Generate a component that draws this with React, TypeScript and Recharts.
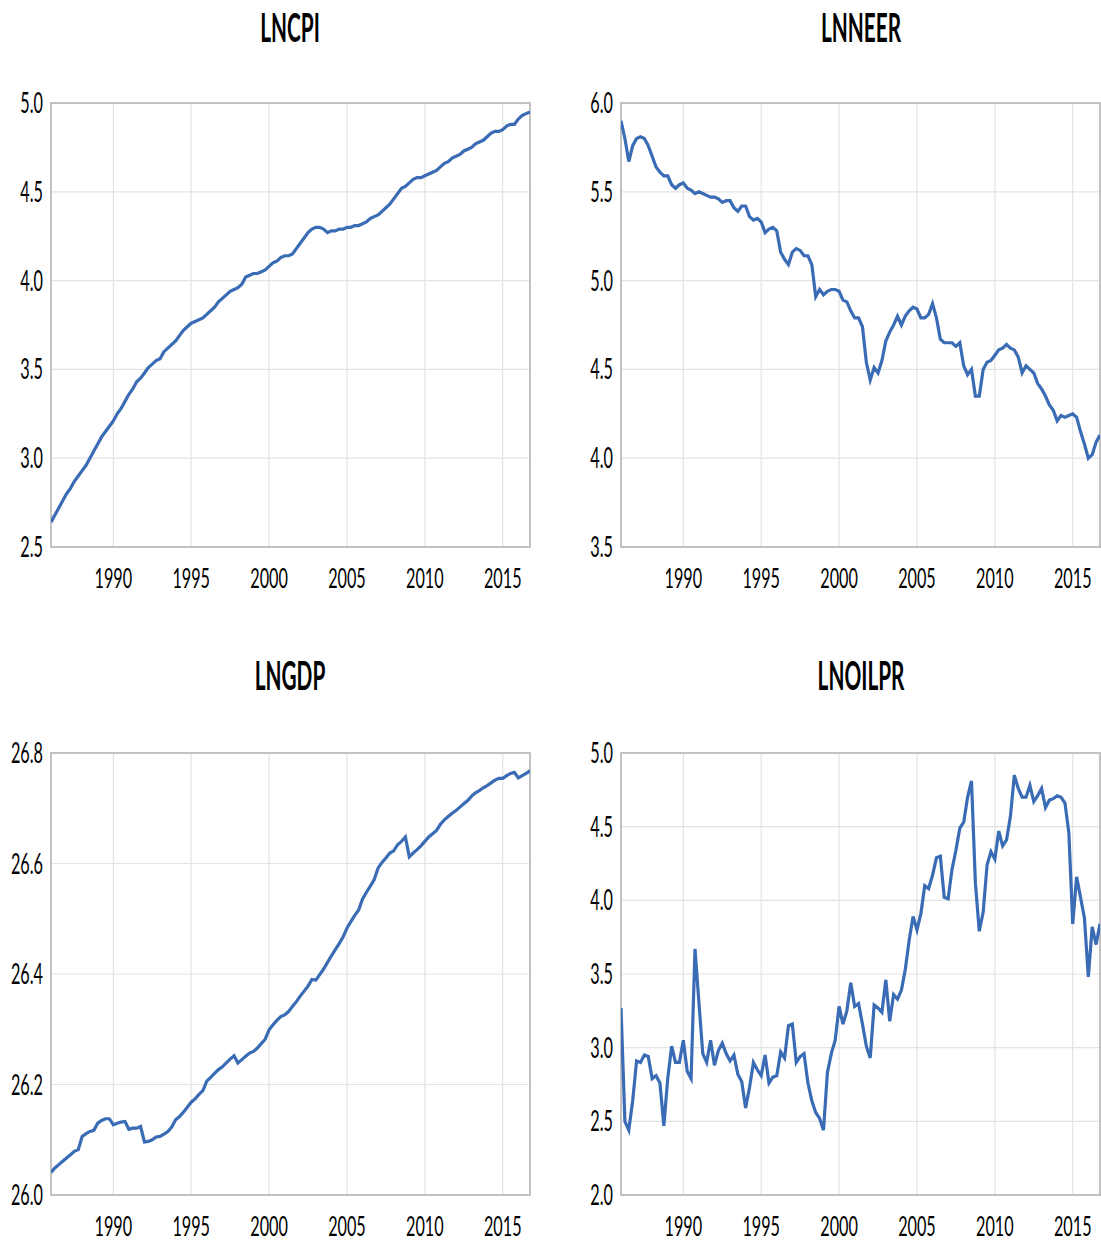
import React from "react";
import { LineChart, Line, XAxis, YAxis, CartesianGrid, ReferenceArea } from "recharts";

// quarterly sample 1986Q1 - 2016Q4
const YEARS = Array.from({ length: 31 }, (_, k) => 1986 + k);
const QUARTERS: string[] = YEARS.flatMap((y) => [`${y}Q1`, `${y}Q2`, `${y}Q3`, `${y}Q4`]);
const YEAR_TICKS = [1990, 1995, 2000, 2005, 2010, 2015];

const LNCPI = [
  2.64, 2.68, 2.72, 2.76, 2.8, 2.83, 2.87, 2.9, 2.93, 2.96, 3.0, 3.04, 3.08, 3.12, 3.15, 3.18,
  3.21, 3.25, 3.28, 3.32, 3.36, 3.39, 3.43, 3.45, 3.48, 3.51, 3.53, 3.55, 3.56, 3.6, 3.62, 3.64,
  3.66, 3.69, 3.72, 3.74, 3.76, 3.77, 3.78, 3.79, 3.81, 3.83, 3.85, 3.88, 3.9, 3.92, 3.94, 3.95,
  3.96, 3.98, 4.02, 4.03, 4.04, 4.04, 4.05, 4.06, 4.08, 4.1, 4.11, 4.13, 4.14, 4.14, 4.15, 4.18,
  4.21, 4.24, 4.27, 4.29, 4.3, 4.3, 4.29, 4.27, 4.28, 4.28, 4.29, 4.29, 4.3, 4.3, 4.31, 4.31,
  4.32, 4.33, 4.35, 4.36, 4.37, 4.39, 4.41, 4.43, 4.46, 4.49, 4.52, 4.53, 4.55, 4.57, 4.58, 4.58,
  4.59, 4.6, 4.61, 4.62, 4.64, 4.66, 4.67, 4.69, 4.7, 4.71, 4.73, 4.74, 4.75, 4.77, 4.78, 4.79,
  4.81, 4.83, 4.84, 4.84, 4.85, 4.87, 4.88, 4.88, 4.91, 4.93, 4.94, 4.95,
];

const LNNEER = [
  5.9, 5.8, 5.67, 5.76, 5.8, 5.81, 5.8, 5.76, 5.7, 5.64, 5.61, 5.59, 5.59, 5.54, 5.52, 5.54,
  5.55, 5.52, 5.51, 5.49, 5.5, 5.49, 5.48, 5.47, 5.47, 5.46, 5.44, 5.45, 5.45, 5.41, 5.39, 5.42,
  5.42, 5.36, 5.34, 5.35, 5.33, 5.27, 5.29, 5.3, 5.28, 5.16, 5.12, 5.09, 5.16, 5.18, 5.17, 5.14,
  5.14, 5.09, 4.91, 4.95, 4.92, 4.94, 4.95, 4.95, 4.94, 4.89, 4.88, 4.83, 4.79, 4.79, 4.74, 4.54,
  4.44, 4.51, 4.48, 4.55, 4.66, 4.71, 4.75, 4.8, 4.75, 4.8, 4.83, 4.85, 4.84, 4.79, 4.79, 4.81,
  4.87, 4.79, 4.67, 4.65, 4.65, 4.65, 4.63, 4.65, 4.52, 4.47, 4.5, 4.35, 4.35, 4.5, 4.54, 4.55,
  4.58, 4.61, 4.62, 4.64, 4.62, 4.61, 4.57, 4.48, 4.52, 4.5, 4.48, 4.42, 4.39, 4.35, 4.3, 4.27,
  4.21, 4.24, 4.23, 4.24, 4.25, 4.23, 4.15, 4.08, 4.0, 4.02, 4.09, 4.13,
];

const LNGDP = [
  26.041, 26.049, 26.055, 26.061, 26.067, 26.073, 26.079, 26.082, 26.106, 26.111, 26.115, 26.117,
  26.13, 26.135, 26.138, 26.138, 26.127, 26.13, 26.132, 26.133, 26.119, 26.121, 26.121, 26.124,
  26.096, 26.097, 26.1, 26.105, 26.106, 26.11, 26.115, 26.123, 26.136, 26.142, 26.15, 26.159,
  26.168, 26.174, 26.182, 26.189, 26.206, 26.213, 26.22, 26.227, 26.232, 26.239, 26.246, 26.252,
  26.239, 26.245, 26.251, 26.257, 26.26, 26.266, 26.274, 26.282, 26.299, 26.308, 26.316, 26.323,
  26.326, 26.332, 26.341, 26.35, 26.36, 26.369, 26.378, 26.39, 26.389, 26.399, 26.409, 26.421,
  26.433, 26.444, 26.455, 26.467, 26.483, 26.495, 26.506, 26.516, 26.536, 26.548, 26.559, 26.571,
  26.592, 26.602, 26.61, 26.619, 26.623, 26.634, 26.64, 26.648, 26.612, 26.619, 26.625, 26.632,
  26.64, 26.648, 26.654, 26.66, 26.671, 26.679, 26.685, 26.691, 26.696, 26.702, 26.708, 26.714,
  26.722, 26.728, 26.732, 26.737, 26.741, 26.746, 26.751, 26.754, 26.754, 26.759, 26.763, 26.765,
  26.755, 26.759, 26.763, 26.768,
];

const LNOILPR = [
  3.27, 2.5, 2.44, 2.64, 2.91, 2.9, 2.95, 2.94, 2.79, 2.81, 2.76, 2.47, 2.79, 3.01, 2.9, 2.9,
  3.05, 2.84, 2.79, 3.67, 3.31, 2.96, 2.9, 3.05, 2.88, 2.98, 3.03, 2.96, 2.91, 2.95, 2.82, 2.77,
  2.59, 2.73, 2.9, 2.85, 2.81, 2.95, 2.76, 2.8, 2.81, 2.97, 2.93, 3.15, 3.16, 2.9, 2.94, 2.96,
  2.76, 2.64, 2.56, 2.52, 2.44, 2.83, 2.96, 3.05, 3.28, 3.16, 3.25, 3.44, 3.28, 3.3, 3.16, 3.01,
  2.93, 3.29, 3.27, 3.24, 3.46, 3.18, 3.36, 3.33, 3.39, 3.53, 3.73, 3.89, 3.8, 3.91, 4.1, 4.08,
  4.17, 4.29, 4.3, 4.02, 4.01, 4.21, 4.34, 4.49, 4.53, 4.7, 4.81, 4.12, 3.79, 3.92, 4.24, 4.33,
  4.28, 4.47, 4.37, 4.41, 4.57, 4.85, 4.76, 4.7, 4.7, 4.78, 4.67, 4.71, 4.76, 4.63, 4.68, 4.69,
  4.71, 4.7, 4.66, 4.46, 3.84, 4.16, 4.02, 3.88, 3.48, 3.82, 3.7, 3.84,
];

const CPI_TICKS = [2.5, 3.0, 3.5, 4.0, 4.5, 5.0];
const NEER_TICKS = [3.5, 4.0, 4.5, 5.0, 5.5, 6.0];
const GDP_TICKS = [26.0, 26.2, 26.4, 26.6, 26.8];
const OIL_TICKS = [2.0, 2.5, 3.0, 3.5, 4.0, 4.5, 5.0];

const toRows = (values: number[]) =>
  QUARTERS.map((q, i) => ({
    t: Number(q.slice(0, 4)) + (Number(q.slice(5)) - 1) / 4,
    v: values[i],
  }));

const FONT = "Lato, 'Open Sans', sans-serif";
const BLUE = "#3a6bb5";

function XTick(props: any) {
  const { x, y, payload } = props;
  return (
    <g transform={`translate(${x},${y + 32.5})`}>
      <text transform="scale(0.59,1)" textAnchor="middle" fontFamily={FONT} fontSize={27.5} fill="#000">
        {payload.value}
      </text>
    </g>
  );
}

function YTick(props: any) {
  const { x, y, payload } = props;
  return (
    <g transform={`translate(${x},${y + 10})`}>
      <text transform="scale(0.58,1)" textAnchor="end" fontFamily={FONT} fontSize={28} fill="#000">
        {Number(payload.value).toFixed(1)}
      </text>
    </g>
  );
}

function Panel({
  values,
  ticks,
  left,
  top,
  width,
  height,
  bottom,
}: {
  values: number[];
  ticks: number[];
  left: number;
  top: number;
  width: number;
  height: number;
  bottom: number;
}) {
  const lo = ticks[0];
  const hi = ticks[ticks.length - 1];
  return (
    <div style={{ position: "absolute", left, top }}>
      <LineChart
        width={width}
        height={height}
        data={toRows(values)}
        margin={{ top: 103, right: width === 540 ? 10 : 1, bottom, left: 0 }}
      >
        <CartesianGrid stroke="#e3e3e3" strokeWidth={1.2} />
        <XAxis
          dataKey="t"
          type="number"
          domain={[1986, 2016.75]}
          ticks={YEAR_TICKS}
          tick={<XTick />}
          tickLine={false}
          axisLine={false}
          height={40}
          allowDataOverflow
        />
        <YAxis
          domain={[lo, hi]}
          ticks={ticks}
          tick={<YTick />}
          tickLine={false}
          axisLine={false}
          width={51}
          allowDataOverflow
        />
        <ReferenceArea x1={1986} x2={2016.75} y1={lo} y2={hi} fill="none" stroke="#c2c2c2" strokeWidth={2} />
        <Line
          type="linear"
          dataKey="v"
          stroke={BLUE}
          strokeWidth={3.2}
          dot={false}
          isAnimationActive={false}
        />
      </LineChart>
    </div>
  );
}

const TITLES = [
  { text: "LNCPI", x: 290, y: 42 },
  { text: "LNNEER", x: 861, y: 42 },
  { text: "LNGDP", x: 290, y: 690 },
  { text: "LNOILPR", x: 861, y: 690 },
];

export default function App() {
  return (
    <div
      style={{
        position: "absolute",
        left: 0,
        top: 0,
        width: 1101,
        height: 1243,
        overflow: "hidden",
        background: "#fff",
      }}
    >
      <Panel values={LNCPI} ticks={CPI_TICKS} left={0} top={0} width={540} height={600} bottom={13} />
      <Panel values={LNNEER} ticks={NEER_TICKS} left={570} top={0} width={531} height={600} bottom={13} />
      <Panel values={LNGDP} ticks={GDP_TICKS} left={0} top={650} width={540} height={592} bottom={7} />
      <Panel values={LNOILPR} ticks={OIL_TICKS} left={570} top={650} width={531} height={592} bottom={7} />
      <svg width={1101} height={1243} style={{ position: "absolute", left: 0, top: 0, pointerEvents: "none" }}>
        {TITLES.map((t) => (
          <g key={t.text} transform={`translate(${t.x},${t.y}) scale(0.52,1)`}>
            <text textAnchor="middle" fontFamily={FONT} fontWeight={700} fontSize={40} fill="#000">
              {t.text}
            </text>
          </g>
        ))}
      </svg>
    </div>
  );
}
